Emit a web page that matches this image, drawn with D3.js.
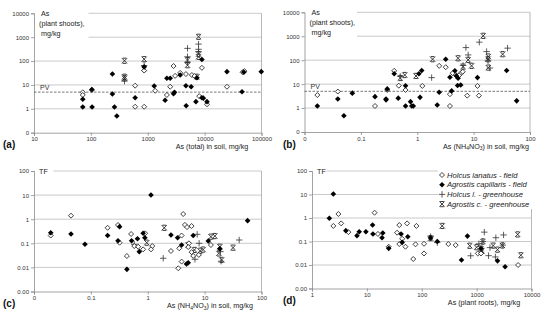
<!DOCTYPE html>
<html>
<head>
<meta charset="utf-8">
<script src="https://cdn.jsdelivr.net/npm/d3@7"></script>
<style>
  body { margin: 0; background: #fff; }
  svg { display: block; font-family: Arial, "Liberation Sans", sans-serif; }
</style>
</head>
<body>
<svg id="chart" width="550" height="325"></svg>
<script>
// series names (legend in panel d)
const seriesNames = ["Holcus lanatus - field", "Agrostis capillaris - field", "Holcus l. - greenhouse", "Agrostis c. - greenhouse"];
const pvLevel = 5;

// (a) As total in soil [mg/kg] vs As in plant shoots [mg/kg]
const aHolcusField = [[72,4.9],[72,3.8],[104,6.1],[600,9.3],[600,1.22],[865,1.22],[865,40],[1350,5.7],[2170,3.8],[2480,8.4],[2840,62],[3030,24],[3720,32],[4690,28.6],[5970,26],[6640,23.5],[8030,3.4],[8960,52],[11000,1.54],[24700,8.4],[46500,34],[50000,38]];
const aAgrostisField = [[72,2.5],[72,1.2],[104,6.4],[105,1.2],[239,28.6],[239,4.2],[260,1.2],[286,0.5],[600,2.9],[865,57],[1300,9],[2020,2.3],[2170,19],[2480,19],[2840,4.3],[2950,4.9],[3720,26],[4690,9.3],[4740,1.35],[5800,8.4],[7030,2.0],[7310,20],[8960,117],[8960,2.9],[9500,2.8],[11000,2.0],[24700,36],[45400,5.2],[49000,34],[99000,36]];
const aHolcusGreen = [[390,14.5],[865,65],[5000,340],[5000,151],[5000,90],[7820,514],[7820,310],[7820,245]];
const aAgrostisGreen = [[390,103],[390,22],[390,19],[865,120],[865,49],[5000,110],[5000,67],[7820,1040],[7820,196],[7820,151],[7310,22]];

// (b) As NH4NO3-extractable in soil vs As in plant shoots
const bHolcusField = [[0.0169,3.5],[0.039,4.9],[0.178,1.22],[0.294,5.7],[0.39,36],[0.47,8.6],[0.62,5.7],[1.23,8.4],[2.45,58],[3.2,51],[3.8,3.8],[3.8,1.22],[4.25,28.6],[4.85,24],[5.6,24],[6.1,30],[6.4,33],[7.7,3.3],[11.7,8.4],[12.4,3.3]];
const bAgrostisField = [[0.0169,1.22],[0.039,2.4],[0.05,0.48],[0.0705,4.2],[0.178,3.0],[0.279,2.4],[0.28,2.2],[0.294,6.3],[0.39,27],[0.46,2.6],[0.62,8.6],[0.62,1.22],[0.76,1.85],[0.8,1.22],[0.85,1.22],[1.07,27],[1.12,2.8],[1.2,37],[2.26,1.35],[2.45,4.6],[3.2,110],[3.8,19.5],[4.07,5.2],[4.65,36],[4.95,22],[5.3,17.7],[5.2,8.8],[5.9,9.2],[11.7,18.7],[38.5,37],[58,2.0]];
const bHolcusGreen = [[0.5,21],[1.8,18.7],[6.5,60],[7.3,336],[8.0,166],[12.6,566],[17,229],[18,95],[19.5,47],[40,318]];
const bAgrostisGreen = [[0.5,18],[0.6,24],[0.95,22],[1.87,110],[5.3,120],[6.5,54],[8.0,103],[9.2,58],[14.8,1040],[18.2,142],[18,110],[18.2,49],[32.7,178]];

// (c) As NH4NO3-extractable in soil vs transfer factor
const cHolcusField = [[0.0197,0.21],[0.0447,1.4],[0.197,0.44],[0.30,0.575],[0.32,0.106],[0.43,0.0297],[0.51,0.243],[0.58,0.077],[0.68,0.072],[0.83,0.056],[0.9,0.26],[1.2,0.077],[1.14,0.056],[2.56,0.048],[3.44,0.0092],[3.58,0.062],[3.94,0.21],[3.94,0.0174],[4.2,1.64],[4.5,0.58],[4.9,0.47],[5.3,0.1],[5.15,0.07],[5.9,0.52],[5.9,0.043],[6.3,0.03],[7.9,0.033],[12.9,0.085]];
const cAgrostisField = [[0.0197,0.275],[0.0447,0.243],[0.0787,0.091],[0.197,0.21],[0.30,0.128],[0.32,0.49],[0.43,0.0083],[0.52,0.128],[0.66,0.155],[0.71,0.045],[0.83,0.26],[0.89,0.17],[1.14,10.1],[2.56,0.22],[3.35,0.17],[3.94,0.085],[4.8,0.0138],[5.15,0.0157],[6.3,0.21],[11.6,0.124],[18.5,0.06],[57,0.87]];
const cHolcusGreen = [[0.58,0.09],[1.87,0.0239],[7.4,0.236],[6.76,0.0217],[8,0.1],[19,0.045],[19.5,0.018],[40.5,0.137]];
const cAgrostisGreen = [[0.96,0.106],[1.95,0.44],[5.15,0.085],[6.6,0.053],[8.3,0.049],[9.4,0.055],[12.9,0.188],[15.1,0.2],[18.5,0.072],[17.8,0.038],[19.9,0.0204],[31.6,0.066]];

// (d) As in plant roots vs transfer factor
const dHolcusField = [[2.45,0.46],[3.03,1.48],[3.4,0.59],[4.6,0.25],[13.8,1.68],[15.9,0.21],[25,0.06],[35.5,0.237],[39,0.5],[39,0.078],[44,0.13],[50.5,0.06],[54,0.59],[70,0.018],[77,0.076],[80,0.46],[110,0.08],[110,0.031],[305,0.078],[415,0.07],[1050,0.031],[1200,0.031],[5700,0.01]];
const dAgrostisField = [[2.45,10.5],[2.07,0.97],[4.14,0.29],[6.6,0.177],[7.25,0.26],[9.6,0.26],[12.7,0.5],[12.9,0.21],[18.9,0.145],[19.5,0.23],[25,0.051],[42,0.21],[44,0.092],[55.7,0.16],[145,0.14],[192,0.1],[530,0.0163],[680,0.17],[1200,0.05],[2400,0.015],[3300,0.0084]];
const dHolcusGreen = [[145,0.16],[192,0.09],[780,0.0247],[1100,0.08],[1300,0.1],[1380,0.25],[1650,0.025],[1750,0.055],[2200,0.022],[2240,0.145],[3100,0.19],[3000,0.07]];
const dAgrostisGreen = [[145,0.14],[236,0.46],[750,0.066],[1000,0.057],[1200,0.05],[1250,0.04],[1300,0.1],[2000,0.067],[2400,0.045],[2950,0.068],[5600,0.2],[6400,0.026]];

// tick values + labels
const shootTicks = [0.1, 1, 10, 100, 1000, 10000];
const shootLabels = ["0", "1", "10", "100", "1000", "10000"];
const tfTicks = [0.001, 0.01, 0.1, 1, 10, 100];
const tfLabels = ["0.00", "0.01", "0.1", "1", "10", "100"];
const totalTicks = [10, 100, 1000, 10000, 100000];
const totalLabels = ["10", "100", "1000", "10000", "100000"];
const nhTicks = [0.01, 0.1, 1, 10, 100];
const nhLabels = ["0", "0.1", "1", "10", "100"];
const rootTicks = [1, 10, 100, 1000, 10000];
const rootLabels = ["1", "10", "100", "1000", "10000"];

const svg = d3.select("#chart");

// marker shapes
function marker(g, kind) {
  if (kind == 0) {
    g.append("path").attr("d", "M0,-2.5L2.5,0L0,2.5L-2.5,0Z")
      .attr("fill", "#fff").attr("stroke", "#111").attr("stroke-width", 0.8);
  } else if (kind == 1) {
    g.append("path").attr("d", "M0,-2.8L2.8,0L0,2.8L-2.8,0Z").attr("fill", "#000");
  } else if (kind == 2) {
    g.append("path").attr("d", "M-3.2,0H3.2M0,-3.2V3.2")
      .attr("stroke", "#333").attr("stroke-width", 0.8).attr("fill", "none");
  } else {
    g.append("path").attr("d", "M-2.6,-2.6L2.6,2.6M2.6,-2.6L-2.6,2.6M-1.8,-2.6H1.8M-1.8,2.6H1.8")
      .attr("stroke", "#222").attr("stroke-width", 0.9).attr("fill", "none");
  }
}

const panels = [
  {tag: "(a)", series: [aHolcusField, aAgrostisField, aHolcusGreen, aAgrostisGreen],
   xDom: [10, 1e5], xRng: [34, 261.5], yDom: [0.1, 1e4], yRng: [132.7, 13.3],
   xT: totalTicks, xL: totalLabels, yT: shootTicks, yL: shootLabels,
   yTitle: ["As", "(plant shoots),", "mg/kg"], boxW: 54, pv: true,
   xTitle: ["As (total) in soil, mg/kg"], xTitleX: 212, tagX: 3},
  {tag: "(b)", series: [bHolcusField, bAgrostisField, bHolcusGreen, bAgrostisGreen],
   xDom: [0.01, 100], xRng: [304.5, 530], yDom: [0.1, 1e4], yRng: [132, 12.3],
   xT: nhTicks, xL: nhLabels, yT: shootTicks, yL: shootLabels,
   yTitle: ["As", "(plant shoots),", "mg/kg"], boxW: 52, pv: true,
   xTitle: "nh", xTitleX: 486, tagX: 283},
  {tag: "(c)", series: [cHolcusField, cAgrostisField, cHolcusGreen, cAgrostisGreen],
   xDom: [0.01, 100], xRng: [34, 261.5], yDom: [0.001, 100], yRng: [291.5, 171],
   xT: nhTicks, xL: nhLabels, yT: tfTicks, yL: tfLabels,
   yTitle: ["TF"], boxW: 19, pv: false,
   xTitle: "nh", xTitleX: 210, tagX: 3},
  {tag: "(d)", series: [dHolcusField, dAgrostisField, dHolcusGreen, dAgrostisGreen],
   xDom: [1, 1e4], xRng: [312, 531.5], yDom: [0.001, 100], yRng: [288.5, 171],
   xT: rootTicks, xL: rootLabels, yT: tfTicks, yL: tfLabels,
   yTitle: ["TF"], boxW: 14, pv: false, legend: true,
   xTitle: ["As (plant roots), mg/kg"], xTitleX: 484, tagX: 283}
];

panels.forEach(p => {
  const x = d3.scaleLog().domain(p.xDom).range(p.xRng);
  const y = d3.scaleLog().domain(p.yDom).range(p.yRng);
  const g = svg.append("g");
  const x0 = p.xRng[0], x1 = p.xRng[1], yb = p.yRng[0], yt = p.yRng[1];

  // gridlines
  g.selectAll(".grid").data(p.yT.slice(1)).enter().append("line")
    .attr("x1", x0).attr("x2", x1)
    .attr("y1", d => y(d)).attr("y2", d => y(d))
    .attr("stroke", "#bdbdbd").attr("stroke-width", 0.8);
  // right border
  g.append("line").attr("x1", x1).attr("x2", x1).attr("y1", yt).attr("y2", yb)
    .attr("stroke", "#a6a6a6").attr("stroke-width", 0.8);

  // white box behind the y title
  const boxH = p.yTitle.length == 3 ? 30 : 10;
  g.append("rect").attr("x", x0 + 0.5).attr("y", yt - 4).attr("width", p.boxW).attr("height", boxH)
    .attr("fill", "#fff");
  if (p.legend) {
    g.append("rect").attr("x", 438).attr("y", yt - 3).attr("width", 95).attr("height", 41).attr("fill", "#fff");
  }

  // axes
  const ax = g.append("g").attr("transform", `translate(0,${yb})`)
    .call(d3.axisBottom(x).tickValues(p.xT).tickFormat((d, i) => p.xL[i]).tickSize(3).tickPadding(1.5));
  const ay = g.append("g").attr("transform", `translate(${x0},0)`)
    .call(d3.axisLeft(y).tickValues(p.yT).tickFormat((d, i) => p.yL[i]).tickSize(3).tickPadding(2));
  [ax, ay].forEach(a => {
    a.select(".domain").attr("stroke", "#8c8c8c").attr("stroke-width", 0.8);
    a.selectAll(".tick line").attr("stroke", "#8c8c8c").attr("stroke-width", 0.8);
    a.selectAll(".tick text").attr("fill", "#333").style("font-size", "6px").style("font-family", "Arial, 'Liberation Sans', sans-serif");
  });

  // PV line
  if (p.pv) {
    g.append("line").attr("x1", x0).attr("x2", x1).attr("y1", y(pvLevel)).attr("y2", y(pvLevel))
      .attr("stroke", "#555").attr("stroke-width", 0.8).attr("stroke-dasharray", "2.5,1.5");
    g.append("text").attr("x", x0 + 6).attr("y", y(pvLevel) - 2.2).text("PV")
      .attr("font-size", 7).attr("fill", "#333");
  }

  // points, field symbols on top
  [3, 2, 0, 1].forEach(k => {
    p.series[k].forEach(d => {
      const m = g.append("g").attr("transform", `translate(${x(d[0])},${y(d[1])})`);
      marker(m, k);
    });
  });

  // y title
  p.yTitle.forEach((t, i) => {
    g.append("text").attr("x", x0 + (i == 1 ? 5 : 7) + (p.yTitle.length == 1 ? -2 : 0))
      .attr("y", yt + 3 + i * 9.7).text(t)
      .attr("font-size", 7.2).attr("fill", "#222");
  });

  // x title
  const xt = g.append("text").attr("x", p.xTitleX).attr("y", yb + 16.5)
    .attr("text-anchor", "middle").attr("font-size", 7.2).attr("fill", "#222");
  if (p.xTitle == "nh") {
    xt.append("tspan").text("As (NH");
    xt.append("tspan").text("4").attr("font-size", 5).attr("dy", 1.5);
    xt.append("tspan").text("NO").attr("dy", -1.5);
    xt.append("tspan").text("3").attr("font-size", 5).attr("dy", 1.5);
    xt.append("tspan").text(") in soil, mg/kg").attr("dy", -1.5);
  } else {
    xt.text(p.xTitle[0]);
  }

  // panel tag
  g.append("text").attr("x", p.tagX).attr("y", yb + 15.5).text(p.tag)
    .attr("font-size", 10).attr("font-weight", "bold").attr("fill", "#111");

  // legend
  if (p.legend) {
    seriesNames.forEach((n, i) => {
      const ly = 175 + i * 9.7;
      const m = g.append("g").attr("transform", `translate(442,${ly})`);
      marker(m, i);
      g.append("text").attr("x", 447).attr("y", ly + 2.6).text(n)
        .attr("font-size", 7.6).attr("font-style", "italic").attr("fill", "#222");
    });
  }
});
</script>
</body>
</html>
